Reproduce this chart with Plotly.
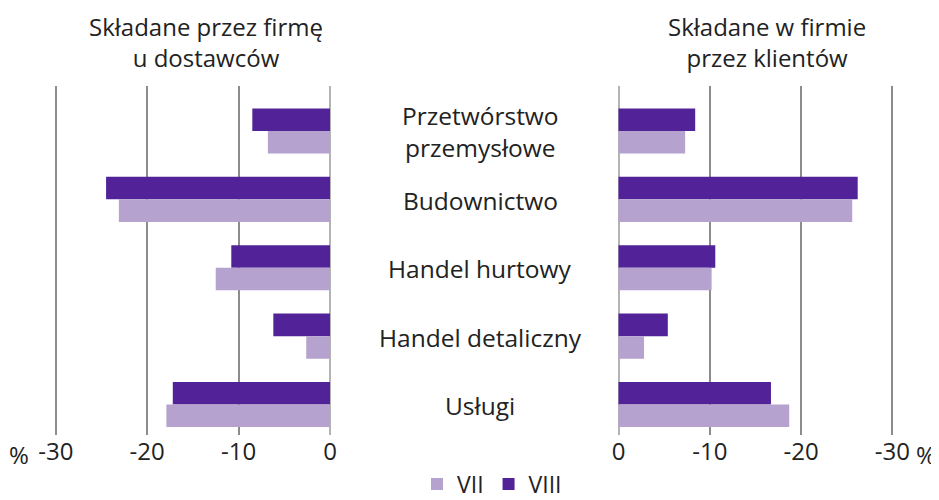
import plotly.graph_objects as go

categories = ["Przetwórstwo<br>przemysłowe", "Budownictwo", "Handel hurtowy", "Handel detaliczny", "Usługi"]
series_names = ["VII", "VIII"]
# Składane przez firmę u dostawców (left panel)
left_vii = [-6.8, -23.1, -12.5, -2.6, -17.9]
left_viii = [-8.5, -24.5, -10.8, -6.2, -17.2]
# Składane w firmie przez klientów (right panel)
right_vii = [-7.3, -25.6, -10.2, -2.8, -18.7]
right_viii = [-8.4, -26.2, -10.6, -5.4, -16.7]
tick_vals = [-30, -20, -10, 0]
tick_text = ["-30", "-20", "-10", "0"]
title_left = "Składane przez firmę<br>u dostawców"
title_right = "Składane w firmie<br>przez klientów"

W, H = 939, 500
OFF = 8  # page body margin
C_VII = "#b5a2ce"
C_VIII = "#522398"
TXT = "#222222"
FONT = "Open Sans"

def px(x):
    return (x - OFF) / W

def py(y):
    return 1 - (y - OFF) / H

fig = go.Figure()
ycat = list(range(len(categories)))
fig.add_trace(go.Bar(y=ycat, x=left_viii, orientation="h", name=series_names[1], marker=dict(color=C_VIII, line=dict(width=0)),
                     xaxis="x", yaxis="y", legendrank=2, showlegend=True))
fig.add_trace(go.Bar(y=ycat, x=left_vii, orientation="h", name=series_names[0], marker=dict(color=C_VII, line=dict(width=0)),
                     xaxis="x", yaxis="y", legendrank=1, showlegend=True))
fig.add_trace(go.Bar(y=ycat, x=right_viii, orientation="h", name=series_names[1], marker=dict(color=C_VIII, line=dict(width=0)),
                     xaxis="x2", yaxis="y", showlegend=False))
fig.add_trace(go.Bar(y=ycat, x=right_vii, orientation="h", name=series_names[0], marker=dict(color=C_VII, line=dict(width=0)),
                     xaxis="x2", yaxis="y", showlegend=False))

# target screen pixels: left px = 330 + 9.14*v ; right px = 618.5 - 9.13*v
lrange = [-31, 0.6]
rrange = [0.6, -31]
l0 = 330 + 9.14 * lrange[0]
l1 = 330 + 9.14 * lrange[1]
r0 = 618.5 - 9.13 * rrange[0]
r1 = 618.5 - 9.13 * rrange[1]

axis_common = dict(tickvals=tick_vals, ticktext=tick_text, showgrid=True, gridcolor="#8c8c8c", gridwidth=1.5,
                   zeroline=True, zerolinecolor="#b4b4b4", zerolinewidth=2, showline=False, ticks="",
                   tickfont=dict(family=FONT, size=24, color=TXT), anchor="y", fixedrange=True, automargin=False)

ytop, ybot = 86, 435
fig.update_layout(
    width=W, height=H,
    margin=dict(l=0, r=0, t=0, b=0, autoexpand=False),
    paper_bgcolor="white", plot_bgcolor="white",
    barmode="group", bargap=0.34, bargroupgap=0,
    font=dict(family=FONT, color=TXT),
    xaxis=dict(domain=[px(l0), px(l1)], range=lrange, **axis_common),
    xaxis2=dict(domain=[px(r0), px(r1)], range=rrange, **axis_common),
    yaxis=dict(domain=[py(ybot), py(ytop)], range=[4 + (ybot - 404.5) / 68.4, 0 - (131 - ytop) / 68.4],
               showticklabels=False, showgrid=False, zeroline=False, ticks="", fixedrange=True, automargin=False),
    legend=dict(orientation="h", x=px(492), xanchor="center", y=py(484), yanchor="middle",
                font=dict(family=FONT, size=23, color=TXT), itemwidth=30, traceorder="normal"),
    showlegend=True,
)

ann = []
for i, c in enumerate(categories):
    ann.append(dict(x=px(480), xref="paper", y=i, yref="y", yshift=-1, text=c, showarrow=False,
                    xanchor="center", yanchor="middle", font=dict(family=FONT, size=24.5, color=TXT)))
ann.append(dict(x=px(206), xref="paper", y=py(42), yref="paper", text=title_left, showarrow=False,
                xanchor="center", yanchor="middle", font=dict(family=FONT, size=24, color=TXT)))
ann.append(dict(x=px(767), xref="paper", y=py(42), yref="paper", text=title_right, showarrow=False,
                xanchor="center", yanchor="middle", font=dict(family=FONT, size=24, color=TXT)))
ann.append(dict(x=px(19), xref="paper", y=py(454), yref="paper", text="%", showarrow=False,
                xanchor="center", yanchor="middle", font=dict(family=FONT, size=24, color=TXT)))
ann.append(dict(x=px(926), xref="paper", y=py(454), yref="paper", text="%", showarrow=False,
                xanchor="center", yanchor="middle", font=dict(family=FONT, size=24, color=TXT)))
fig.update_layout(annotations=ann)

fig.write_html("out.html")
